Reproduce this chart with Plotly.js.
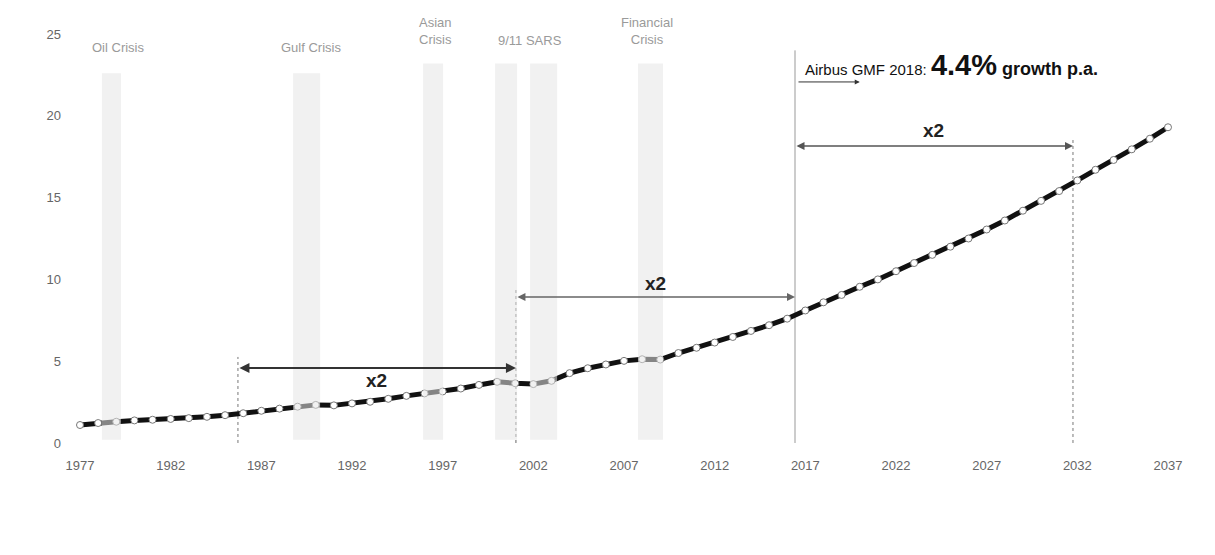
<!DOCTYPE html>
<html>
<head>
<meta charset="utf-8">
<script src="https://cdn.plot.ly/plotly-3.0.1.min.js"></script>
<style>html,body{margin:0;padding:0;background:#fff;}#chart{width:1215px;height:555px;}</style>
</head>
<body>
<div id="chart"></div>
<script>
// Years and traffic values (trillion RPK)
const years = [];
for (let y = 1977; y <= 2037; y++) years.push(y);
const traffic = [
  1.10, 1.22, 1.30, 1.38, 1.42, 1.47, 1.52, 1.60, 1.70, 1.82,
  1.97, 2.10, 2.22, 2.33, 2.30, 2.42, 2.52, 2.70, 2.88, 3.03,
  3.15, 3.33, 3.55, 3.74, 3.65, 3.60, 3.80, 4.27, 4.57, 4.80,
  5.02, 5.12, 5.10, 5.50, 5.82, 6.14, 6.48, 6.85, 7.20, 7.60,
  8.10, 8.60, 9.05, 9.55, 10.00, 10.50, 11.00, 11.50, 12.00, 12.50,
  13.05, 13.60, 14.20, 14.80, 15.40, 16.05, 16.70, 17.30, 17.95, 18.60,
  19.30
];
const xTicks = [1977, 1982, 1987, 1992, 1997, 2002, 2007, 2012, 2017, 2022, 2027, 2032, 2037];
const yTicks = [0, 5, 10, 15, 20, 25];

// Crisis periods
const crisisNames = ["Oil Crisis", "Gulf Crisis", "Asian<br>Crisis", "9/11 SARS", "Financial<br>Crisis"];
const crisisLabelX = [1979.1, 1989.74, 1996.58, 2001.82, 2008.27];
const crisisLabelY = [24.2, 24.2, 25.18, 24.63, 25.18];
const bandStart = [1978.21, 1988.75, 1995.92, 1999.89, 2001.82, 2007.77];
const bandEnd   = [1979.26, 1990.24, 1997.02, 2001.10, 2003.31, 2009.15];
const bandTop   = [22.6, 22.6, 23.2, 23.2, 23.2, 23.2];

// Doubling markers
const doubleYears = [1985.71, 2001.04, 2016.43, 2031.76];
const doubleArrowY = [4.58, 8.92, 18.15];
const doubleLabel = "x2";

const FONT = 'Liberation Sans, Arial, sans-serif';
const shapes = [];
for (let i = 0; i < bandStart.length; i++) {
  shapes.push({type: 'rect', xref: 'x', yref: 'y', x0: bandStart[i], x1: bandEnd[i], y0: 0.2, y1: bandTop[i],
    fillcolor: 'rgba(229,229,229,0.55)', line: {width: 0}, layer: 'above'});
}
const vTops = [5.26, 9.35, 24.0, 18.52];
const vDash = ['dot', 'dot', 'solid', 'dot'];
const vColor = ['#777', '#666', '#999', '#777'];
for (let i = 0; i < doubleYears.length; i++) {
  shapes.push({type: 'line', xref: 'x', yref: 'y', x0: doubleYears[i], x1: doubleYears[i], y0: 0, y1: vTops[i],
    line: {color: vColor[i], width: 1, dash: vDash[i]}, layer: 'below'});
}

const annotations = [];
for (let i = 0; i < crisisNames.length; i++) {
  annotations.push({x: crisisLabelX[i], y: crisisLabelY[i], xref: 'x', yref: 'y', text: crisisNames[i],
    showarrow: false, font: {family: FONT, size: 13, color: '#9a9a9a'},
    xanchor: 'center', yanchor: 'middle'});
}
const arrowColors = ['#333', '#666', '#555'];
const arrowWidths = [2, 1.6, 1.6];
const labelY = [3.79, 9.78, 19.13];
for (let i = 0; i < 3; i++) {
  annotations.push({x: doubleYears[i + 1], y: doubleArrowY[i], ax: doubleYears[i], ay: doubleArrowY[i],
    xref: 'x', yref: 'y', axref: 'x', ayref: 'y', text: '', showarrow: true,
    arrowside: 'end+start', arrowhead: 2, arrowsize: 1, arrowwidth: arrowWidths[i], arrowcolor: arrowColors[i],
    standoff: 0, startstandoff: 0});
  annotations.push({x: (doubleYears[i] + doubleYears[i + 1]) / 2, y: labelY[i], xref: 'x', yref: 'y',
    text: '<b>' + doubleLabel + '</b>', showarrow: false,
    font: {family: FONT, size: 19, color: '#222'}, yanchor: 'middle'});
}
annotations.push({x: 2016.88, y: 23.1, xref: 'x', yref: 'y', xanchor: 'left', yanchor: 'middle', showarrow: false,
  text: '<span style="font-size:15px">Airbus GMF 2018: </span><b><span style="font-size:29px">4.4%</span><span style="font-size:18px"> growth p.a.</span></b>',
  font: {family: FONT, size: 15, color: '#111'}});
annotations.push({x: 2020.0, y: 22.07, ax: 2016.54, ay: 22.07, xref: 'x', yref: 'y', axref: 'x', ayref: 'y',
  text: '', showarrow: true, arrowhead: 2, arrowsize: 1, arrowwidth: 1, arrowcolor: '#333', standoff: 0});

const trace = {
  x: years, y: traffic, type: 'scatter', mode: 'lines+markers',
  line: {color: '#111', width: 5},
  marker: {symbol: 'circle', size: 7, color: '#fff', line: {color: '#777', width: 1}},
  hoverinfo: 'x+y'
};

const layout = {
  width: 1215, height: 555,
  margin: {l: 62, r: 20, t: 30, b: 107},
  paper_bgcolor: '#fff', plot_bgcolor: '#fff',
  showlegend: false,
  font: {family: FONT, size: 13, color: '#666'},
  xaxis: {range: [1976.007, 2038.489], tickvals: xTicks, ticktext: xTicks.map(String), showgrid: false,
    zeroline: false, showline: false, ticks: '', ticklabelstandoff: 8,
    tickfont: {family: FONT, size: 13, color: '#666'}},
  yaxis: {range: [-0.306, 25.245], tickvals: yTicks, ticktext: yTicks.map(String), showgrid: false,
    zeroline: false, showline: false, ticks: '',
    tickfont: {family: FONT, size: 13, color: '#666'}},
  shapes: shapes,
  annotations: annotations
};

Plotly.newPlot('chart', [trace], layout, {displayModeBar: false, staticPlot: true});
</script>
</body>
</html>
